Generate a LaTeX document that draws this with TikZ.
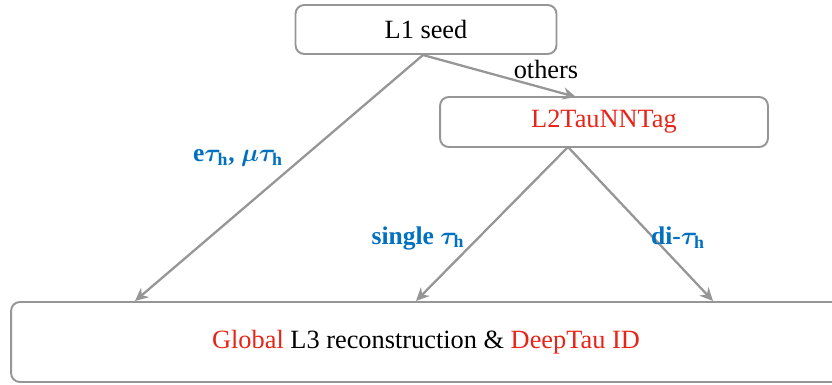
\documentclass[tikz,border=0pt]{standalone}
\usepackage{amsmath}
\usepackage{fontspec}
\setmainfont{Liberation Serif}
\usetikzlibrary{arrows.meta}
\definecolor{boxgray}{RGB}{150,150,150}
\definecolor{lblblue}{RGB}{0,112,192}
\definecolor{hltred}{RGB}{232,36,24}
\tikzset{
  stage/.style={draw=boxgray, line width=1.1pt, rounded corners=5pt, font=\fontsize{15}{17}\selectfont},
  flow/.style={draw=boxgray, line width=1.3pt, -{Stealth[length=7.5pt,width=7pt]}},
  chan/.style={text=lblblue, font=\fontsize{14.5}{16}\selectfont\bfseries\boldmath},
}
\begin{document}
\begin{tikzpicture}[x=0.02cm,y=-0.02cm]
	\useasboundingbox (0,0) rectangle (832,385);
	\clip (0,0) rectangle (832,385);
	\node[stage, minimum width=5.22cm, minimum height=0.98cm] (seed) at (426,29.5) {L1 seed};
	\node[stage, minimum width=6.56cm, minimum height=1cm, text=hltred] (l2) at (604,122) {L2TauNNTag};
	\node[stage, minimum width=16.6cm, minimum height=1.6cm] (glob) at (426,342)
		{\textcolor{hltred}{Global} L3 reconstruction \& \textcolor{hltred}{DeepTau ID}};
	\coordinate (seedout) at (423,55);
	\coordinate (l2in) at (576,97);
	\coordinate (l2out) at (568,147);
	\coordinate (lepin) at (135,301);
	\coordinate (singlein) at (416,301);
	\coordinate (diin) at (713,301);
	\draw[flow] (seedout) -- (lepin);
	\draw[flow] (seedout) -- (l2in);
	\draw[flow] (l2out) -- (singlein);
	\draw[flow] (l2out) -- (diin);
	\node[font=\fontsize{15}{17}\selectfont] (oth) at (546,69) {others};
	\node[chan] (lep) at (238,158) {e$\tau_{\textbf{h}}$, $\mu\tau_{\textbf{h}}$};
	\node[chan] (single) at (418,238) {single $\tau_{\textbf{h}}$};
	\node[chan] (di) at (678,238) {di-$\tau_{\textbf{h}}$};
\end{tikzpicture}
\end{document}
